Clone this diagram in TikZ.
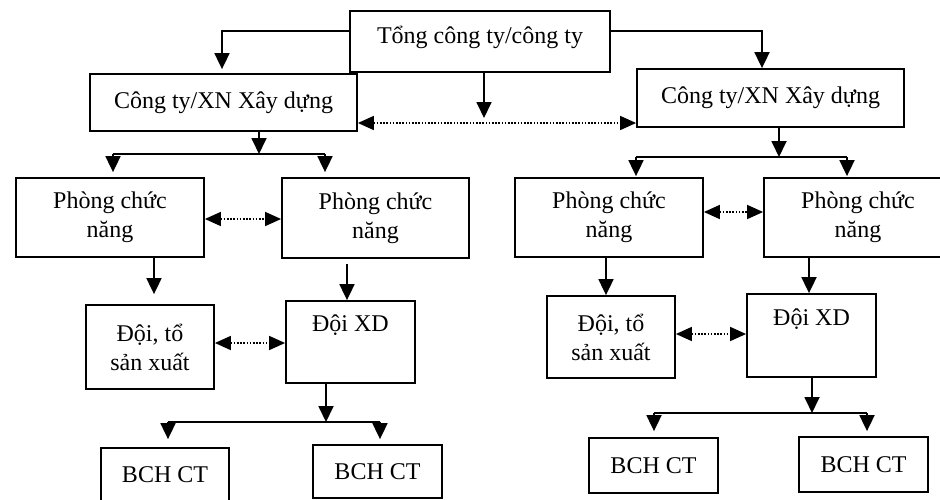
\documentclass[tikz,border=0pt]{standalone}
\usepackage{fontspec}
\setmainfont{Liberation Serif}
\usetikzlibrary{arrows.meta}
\begin{document}
\begin{tikzpicture}[x=1pt,y=-1pt,
  box/.style={draw, line width=1.8pt, inner sep=0pt, align=center,
    font=\fontsize{24pt}{29pt}\selectfont},
  arr/.style={line width=1.8pt, -{Triangle[length=16pt,width=15pt]}},
  link/.style={line width=1.8pt},
  dotarr/.style={line width=1.6pt, dash pattern=on 1.6pt off 1.6pt,
    {Triangle[length=16pt,width=14pt]}-{Triangle[length=16pt,width=14pt]}}
]
\useasboundingbox (0,0) rectangle (940,499);

% boxes
\node[box, minimum width=260pt, minimum height=61pt, text height=8pt, text depth=5pt] (top) at (480,41.5) {Tổng công ty/công ty};
\node[box, minimum width=267pt, minimum height=57pt] (cL) at (223.5,102.5) {Công ty/XN Xây dựng};
\node[box, minimum width=267pt, minimum height=58pt] (cR) at (770.5,98) {Công ty/XN Xây dựng};

\node[box, minimum width=188pt, minimum height=79pt] (pL1) at (110,217.5) {Phòng chức\\năng};
\node[box, minimum width=187pt, minimum height=80pt] (pL2) at (375.5,218) {Phòng chức\\năng};
\node[box, minimum width=188pt, minimum height=79pt] (pR1) at (609,217.5) {Phòng chức\\năng};
\node[box, minimum width=188pt, minimum height=79pt] (pR2) at (858,217.5) {Phòng chức\\năng};

\node[box, minimum width=128pt, minimum height=84pt] (dL1) at (150,347) {Đội, tổ\\sản xuất};
\node[box, minimum width=129pt, minimum height=82pt] (dL2) at (350.5,342) {Đội XD\\\strut};
\node[box, minimum width=128pt, minimum height=82pt] (dR1) at (611,337) {Đội, tổ\\sản xuất};
\node[box, minimum width=129pt, minimum height=83pt] (dR2) at (811.5,335.5) {Đội XD\\\strut};

\node[box, minimum width=128pt, minimum height=54pt] (bL1) at (165,475) {BCH CT};
\node[box, minimum width=129pt, minimum height=53pt] (bL2) at (377.5,471.5) {BCH CT};
\node[box, minimum width=129pt, minimum height=55pt] (bR1) at (653.5,465.5) {BCH CT};
\node[box, minimum width=129pt, minimum height=55pt] (bR2) at (863.5,464.5) {BCH CT};

% top level
\draw[arr, shorten >=4pt] (top.west |- 0,31) -| ([xshift=-1.5pt]cL.north);
\draw[arr] (top.east |- 0,31) -| ([xshift=-8.5pt]cR.north);
\coordinate (dm) at ([yshift=-20.5pt]cL.east);
\draw[dotarr] (dm) -- (dm -| cR.west);
\coordinate (ts) at ([xshift=4pt]top.south);
\draw[arr, shorten >=5pt] (ts) -- (ts |- dm);

% left company to departments
\coordinate (cLs) at ([xshift=35.5pt]cL.south);
\coordinate (bLa) at (113,154);
\coordinate (bLb) at (325,154);
\draw[arr] (cLs) -- (cLs |- bLa);
\draw[link] (bLa) -- (bLb);
\draw[arr, shorten >=5pt] (bLa) -- (bLa |- pL1.north);
\draw[arr, shorten >=5pt] (bLb) -- (bLb |- pL2.north);

% right company to departments
\coordinate (cRs) at ([xshift=8.5pt]cR.south);
\coordinate (bRa) at (636,157);
\coordinate (bRb) at (847,157);
\draw[arr] (cRs) -- (cRs |- bRa);
\draw[link] (bRa) -- (bRb);
\draw[arr, shorten >=1pt] (bRa) -- (bRa |- pR1.north);
\draw[arr, shorten >=1pt] (bRb) -- (bRb |- pR2.north);

% dotted links between departments
\coordinate (d2) at ([yshift=-1.5pt]pL1.east);
\draw[dotarr] (d2) -- (d2 -| pL2.west);
\coordinate (d3) at ([yshift=5.5pt]pR1.east);
\draw[dotarr] (d3) -- (d3 -| pR2.west);

% departments to teams
\draw[arr, shorten >=10pt] ([xshift=44pt]pL1.south) -- ([xshift=44pt]pL1.south |- dL1.north);
\coordinate (pL2s) at ([xshift=-28.5pt]pL2.south);
\draw[arr, shorten <=5pt] (pL2s) -- (pL2s |- dL2.north);
\coordinate (pR1s) at ([xshift=-3pt]pR1.south);
\draw[arr] (pR1s) -- (pR1s |- dR1.north);
\coordinate (pR2s) at ([xshift=-49pt]pR2.south);
\draw[arr] (pR2s) -- (pR2s |- dR2.north);

% dotted links between teams
\coordinate (d4) at ([yshift=4pt]dL1.east);
\draw[dotarr] (d4) -- (d4 -| dL2.west);
\coordinate (d5) at ([yshift=3pt]dR1.east);
\draw[dotarr] (d5) -- (d5 -| dR2.west);

% left team to site boards
\coordinate (dL2s) at ([xshift=-24.5pt]dL2.south);
\coordinate (tLa) at (168,422);
\coordinate (tLb) at (380,422);
\draw[arr] (dL2s) -- (dL2s |- tLa);
\draw[link] (tLa) -- (tLb);
\draw[arr, shorten >=8pt] (tLa) -- (tLa |- bL1.north);
\draw[arr, shorten >=5pt] (tLb) -- (tLb |- bL2.north);

% right team to site boards
\coordinate (dR2s) at ([xshift=0.5pt]dR2.south);
\coordinate (tRa) at (654,413);
\coordinate (tRb) at (867,413);
\draw[arr] (dR2s) -- (dR2s |- tRa);
\draw[link] (tRa) -- (tRb);
\draw[arr, shorten >=6pt] (tRa) -- (tRa |- bR1.north);
\draw[arr, shorten >=5pt] (tRb) -- (tRb |- bR2.north);
\end{tikzpicture}
\end{document}
